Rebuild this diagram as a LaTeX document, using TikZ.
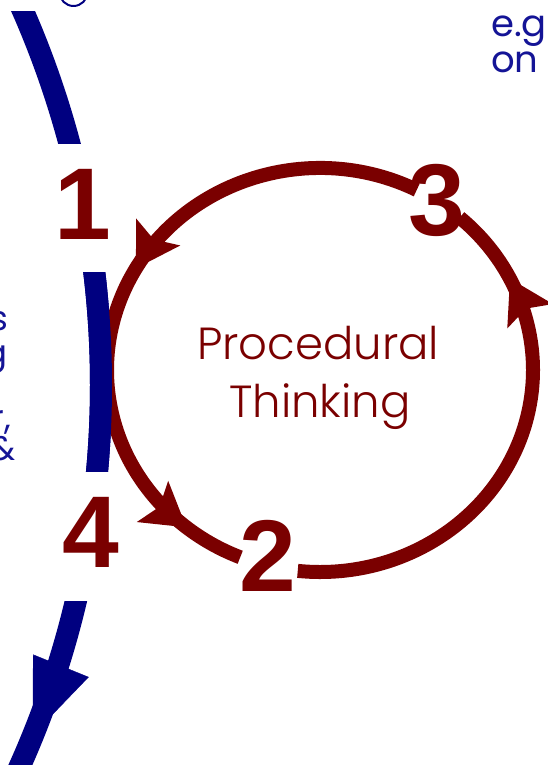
\documentclass[tikz,border=0pt]{standalone}
\usepackage{fontspec}
\setmainfont{Poppins}
\newfontfamily\thinfont{Poppins}[UprightFont={* Light}]
\newfontfamily\numfont{Liberation Sans}
\usetikzlibrary{arrows.meta,decorations.markings}
\definecolor{cyclered}{RGB}{122,0,0}
\definecolor{pathblue}{RGB}{0,0,128}
\definecolor{noteblue}{RGB}{20,20,150}
\begin{document}
\begin{tikzpicture}[x=1pt,y=1pt,
    ring/.style={line width=14pt,cyclered},
    outer/.style={line width=22pt,pathblue},
    num/.style={inner sep=0pt,cyclered,font=\numfont\bfseries\fontsize{102}{102}\selectfont},
    thinking/.style={inner sep=0pt,cyclered,font=\thinfont\fontsize{45}{50}\selectfont},
    note/.style={inner sep=0pt,noteblue,font=\fontsize{37}{37}\selectfont},
    sidenote/.style={inner sep=0pt,noteblue,font=\fontsize{34}{34}\selectfont}]
    \useasboundingbox (0,0) rectangle (548,765);
    \clip (0,0) rectangle (548,765);
    % outer loop, three pieces
    \foreach \ya/\yb in {621/753, 293/492, -20/163} {
        \begin{scope}
            \clip (-20,\ya) rectangle (300,\yb);
            \draw[outer] (-832,380) circle[radius=933];
        \end{scope}
    }
    \path[decorate,decoration={markings,
        mark=at position 0.5 with {\arrow[pathblue]{Triangle[length=75pt,width=60pt]}}}]
        (-832,380) ++(-12:933) arc[start angle=-12,end angle=-32.1,radius=933];
    \draw[pathblue,line width=2pt] (73.5,773) circle[radius=14];
    % cycle
    \coordinate (c) at (320,395);
    \draw[ring,postaction={decorate},decoration={markings,
        mark=at position 0.476 with {\arrow{Stealth[length=42pt,width=50pt,inset=8pt]}},
        mark=at position 0.908 with {\arrow{Stealth[length=42pt,width=50pt,inset=8pt]}}}]
        (c) ++(63:213 and 202) arc[start angle=63,end angle=248,x radius=213,y radius=202];
    \draw[ring,postaction={decorate},decoration={markings,
        mark=at position 0.848 with {\arrow{Stealth[length=42pt,width=50pt,inset=8pt]}}}]
        (c) ++(264:213 and 202) arc[start angle=264,end angle=409,x radius=213,y radius=202];
    % bar on top of the cycle
    \begin{scope}
        \clip (-20,293) rectangle (300,492);
        \draw[outer] (-832,380) circle[radius=933];
    \end{scope}
    % steps
    \node[num] (one) at (83,561) {1};
    \node[num] (two) at (268,209) {2};
    \node[num] (three) at (437,565) {3};
    \node[num] (four) at (91,233) {4};
    \node[thinking,anchor=base] (proc) at (318,405) {Procedural};
    \node[thinking,anchor=base] (think) at (320,347) {Thinking};
    % notes
    \node[note,anchor=base west] (eg) at (491,728) {e.g};
    \node[note,anchor=base west] (on) at (491,692) {on};
    \node[sidenote,anchor=base east] (s) at (8,434) {s};
    \node[sidenote,anchor=base east] (g) at (8,400) {g};
    \node[sidenote,anchor=base east] (r) at (11,335) {r,};
    \node[sidenote,anchor=base east] (amp) at (16,304) {\&};
\end{tikzpicture}
\end{document}
